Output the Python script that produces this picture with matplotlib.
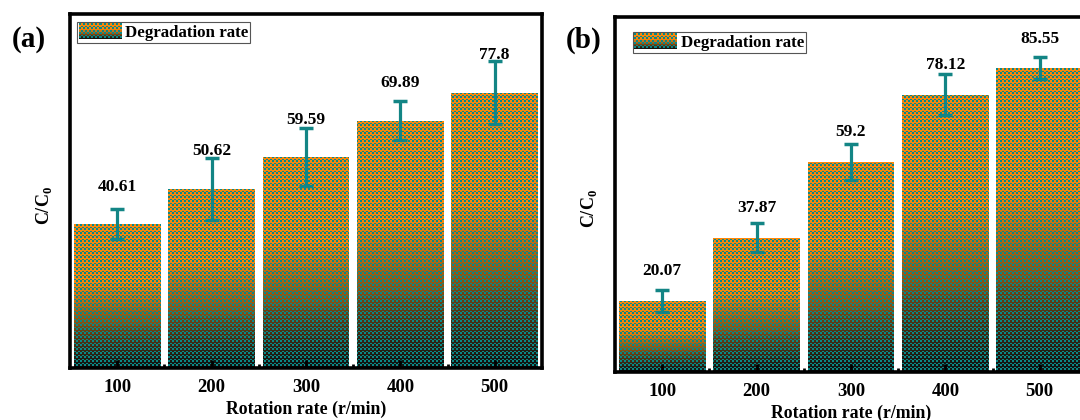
import numpy as np
import matplotlib
matplotlib.use("Agg")
import matplotlib.pyplot as plt
from matplotlib.legend_handler import HandlerBase
from matplotlib.image import BboxImage
from matplotlib.transforms import Bbox, TransformedBbox
from matplotlib.patches import Patch

plt.rcParams['font.family'] = ['Liberation Serif', 'DejaVu Serif']
plt.rcParams['font.weight'] = 'bold'
plt.rcParams['mathtext.fontset'] = 'custom'
plt.rcParams['mathtext.rm'] = 'Liberation Serif'
plt.rcParams['mathtext.bf'] = 'Liberation Serif:bold'

# data
speeds = ["100", "200", "300", "400", "500"]
rate_a = [40.61, 50.62, 59.59, 69.89, 77.8]
err_a = [4.2, 8.7, 8.3, 5.6, 8.9]
rate_b = [20.07, 37.87, 59.2, 78.12, 85.55]
err_b = [3.1, 4.1, 5.0, 5.8, 3.1]

ORANGE = np.array([250, 135, 10]) / 255
BROWN = np.array([118, 72, 20]) / 255
DARK = np.array([18, 20, 16]) / 255
TEAL = np.array([10, 135, 135]) / 255
ERRC = '#138585'
W, H, DPI = 1080, 420, 100


def grad_color(t):
    # t = 0 at bar top, 1 at bar bottom
    c1 = np.clip((t - 0.40) / 0.33, 0, 1)[..., None]
    c2 = np.clip((t - 0.70) / 0.28, 0, 1)[..., None]
    base = ORANGE * (1 - c1) + BROWN * c1
    return base * (1 - c2) + DARK * c2


def checker(r, c):
    m = ((r % 4) < 2) & ((c % 4) < 2)
    return m | (((r % 4) == 3) & ((c % 4) >= 2))


def fill_pattern(h, w):
    t = np.linspace(0, 1, h)[:, None] * np.ones((1, w))
    img = grad_color(t)
    r, c = np.mgrid[0:h, 0:w]
    img[checker(r, c)] = TEAL
    return img


class GradientHandler(HandlerBase):
    def create_artists(self, legend, orig_handle, xdescent, ydescent,
                       width, height, fontsize, trans):
        bb = TransformedBbox(Bbox.from_bounds(-xdescent, -ydescent, width, height), trans)
        im = BboxImage(bb, interpolation='nearest')
        im.set_data(fill_pattern(int(round(height * DPI / 72)), int(round(width * DPI / 72))))
        return [im]


fig = plt.figure(figsize=(W / DPI, H / DPI), dpi=DPI)
ax_a = fig.add_axes([0.0648, 0.1238, 0.437, 0.843])
ax_b = fig.add_axes([0.5694, 0.1143, 0.437, 0.845])

# pixel-exact fill layer for the bars (drawn under the transparent axes)
layer = np.zeros((H, W, 4))
yy, xx = np.mgrid[0:H, 0:W]

panels = [(ax_a, rate_a, err_a, (0.004, 0.992), 27),
          (ax_b, rate_b, err_b, (0.027, 0.972), 21.5)]
x = np.arange(len(speeds))
for ax, vals, errs, lpos, lab_off in panels:
    ax.set_xlim(-0.5, 4.5)
    ax.set_ylim(0, 100)
    ax.set_facecolor('none')
    bars = ax.bar(x, vals, width=0.92, facecolor='none', edgecolor='none', zorder=2)
    for b in bars:
        x0, y0 = b.get_x(), b.get_y()
        x1, y1 = x0 + b.get_width(), y0 + b.get_height()
        p0 = ax.transData.transform((x0, y0))
        p1 = ax.transData.transform((x1, y1))
        px0, py0 = int(round(p0[0])), int(round(p0[1]))
        px1, py1 = int(round(p1[0])), int(round(p1[1]))
        px1 = min(px1, W)
        sub_y = yy[py0:py1, px0:px1]
        sub_x = xx[py0:py1, px0:px1]
        t = (py1 - 1 - sub_y) / max(py1 - py0 - 1, 1)
        rgb = grad_color(t)
        rgb[checker(H - 1 - sub_y, sub_x)] = TEAL
        layer[py0:py1, px0:px1, :3] = rgb
        layer[py0:py1, px0:px1, 3] = 1
    ax.errorbar(x, vals, yerr=errs, fmt='none', ecolor=ERRC, elinewidth=2.3,
                capsize=4.8, capthick=2.5, zorder=3)
    for xi, v in zip(x, vals):
        ax.annotate(f"{v:g}", (xi, v), textcoords='offset points', xytext=(0, lab_off),
                    ha='center', va='center', fontsize=12.5, fontweight='bold')
    ax.set_xticks(x)
    ax.set_xticklabels(speeds)
    ax.set_xticks(x[:-1] + 0.5, minor=True)
    ax.set_yticks([])
    ax.tick_params(axis='x', which='major', direction='in', length=6, width=2,
                   labelsize=13.5, pad=8)
    ax.tick_params(axis='x', which='minor', direction='in', length=3, width=2)
    for s in ax.spines.values():
        s.set_linewidth(2.6)
    ax.set_xlabel("Rotation rate (r/min)", fontsize=12.8, fontweight='bold', labelpad=3)
    ax.set_ylabel(r"C/C$_\mathbf{0}$", fontsize=13, fontweight='bold')
    ax.yaxis.set_label_coords(-0.034, 0.46)
    leg = ax.legend([Patch()], ["Degradation rate"], handler_map={Patch: GradientHandler()},
                    loc='upper left', bbox_to_anchor=lpos, fancybox=False,
                    edgecolor='#555555', framealpha=1, borderpad=0.1,
                    borderaxespad=0.3, handlelength=2.5, handleheight=1.0,
                    handletextpad=0.25, prop={'size': 12.2, 'weight': 'bold'})
    leg.get_frame().set_linewidth(0.8)

fig.figimage(layer, 0, 0, origin='lower', zorder=-1)

fig.text(0.027, 0.905, "(a)", fontsize=21, fontweight='bold', ha='center', va='center')
fig.text(0.540, 0.905, "(b)", fontsize=21, fontweight='bold', ha='center', va='center')

fig.savefig("out.png", dpi=DPI)
